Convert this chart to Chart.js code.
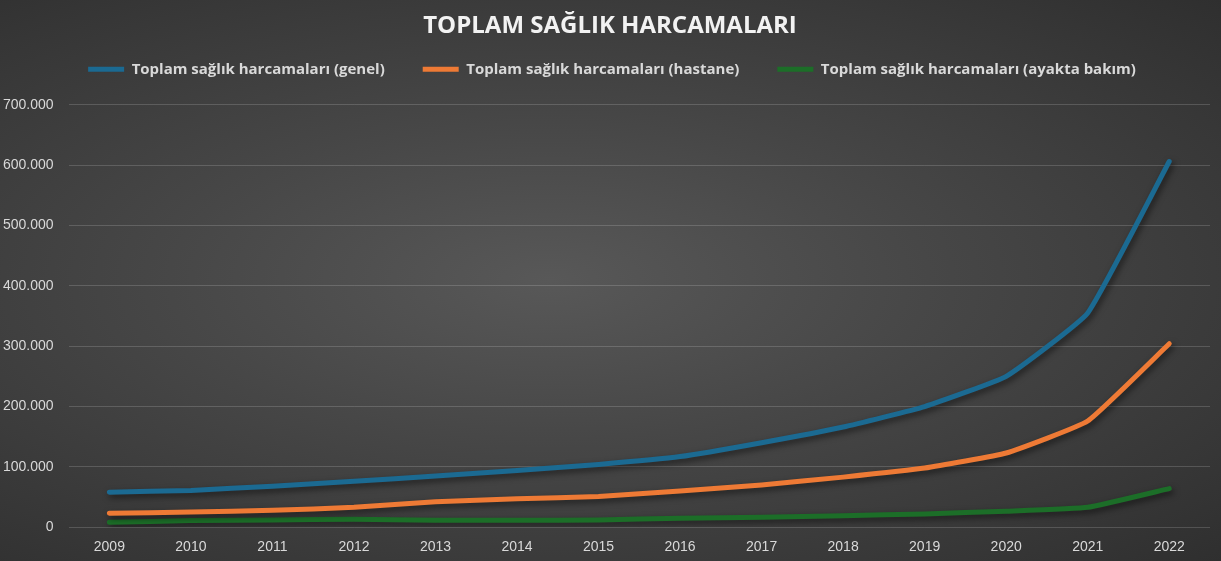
<!DOCTYPE html>
<html>
<head>
<meta charset="utf-8">
<script src="https://cdn.jsdelivr.net/npm/chart.js@4.4.0/dist/chart.umd.min.js"></script>
<style>
  html, body { margin: 0; padding: 0; background: #3a3a3a; }
  #wrap {
    width: 1221px; height: 561px;
    background: radial-gradient(ellipse at 45% 50%, #585858 0%, #474747 40%, #2f2f2f 100%);
  }
</style>
</head>
<body>
<div id="wrap"><canvas id="grafik" width="1221" height="561"></canvas></div>
<script>
// Veriler
const yillar = ["2009", "2010", "2011", "2012", "2013", "2014", "2015", "2016", "2017", "2018", "2019", "2020", "2021", "2022"];
const genel = [58000, 61000, 68000, 76000, 85000, 94000, 104000, 117000, 140000, 166000, 200000, 250000, 355000, 606000];
const hastane = [23000, 25000, 28000, 33000, 42000, 47000, 51000, 60000, 70000, 83000, 98000, 123000, 176000, 304000];
const ayaktaBakim = [8000, 11000, 12000, 13000, 11500, 11500, 12000, 15000, 16500, 19000, 22000, 26500, 33000, 64000];
const seriAdlari = [
    "Toplam sağlık harcamaları (genel)",
    "Toplam sağlık harcamaları (hastane)",
    "Toplam sağlık harcamaları (ayakta bakım)"
];

// Çizgilere gölge
const golge = {
    id: "golge",
    beforeDatasetsDraw(chart) {
        const ctx = chart.ctx;
        ctx.save();
        ctx.shadowColor = "rgba(0,0,0,0.55)";
        ctx.shadowBlur = 6;
        ctx.shadowOffsetX = 2;
        ctx.shadowOffsetY = 3;
    },
    afterDatasetsDraw(chart) {
        chart.ctx.restore();
    }
};

// Lejant yüksekliğini ayarla, başlık ve lejantı ortala
const lejantBosluk = {
    id: "lejantBosluk",
    beforeInit(chart) {
        const fit = chart.legend.fit;
        chart.legend.fit = function () {
            fit.bind(chart.legend)();
            this.height += 18;
        };
    },
    afterLayout(chart) {
        chart.legend.left += 13;
        chart.legend.right += 13;
        if (chart.titleBlock) {
            chart.titleBlock.left += 11;
            chart.titleBlock.right += 11;
        }
    }
};

function seri(label, data, renk) {
    return {
        label: label,
        data: data,
        borderColor: renk,
        backgroundColor: renk,
        borderWidth: 5,
        pointRadius: 0,
        pointStyle: "line",
        tension: 0.12,
        borderCapStyle: "round",
        fill: false
    };
}

new Chart(document.getElementById("grafik"), {
    type: "line",
    data: {
        labels: yillar,
        datasets: [
            seri(seriAdlari[0], genel, "#1b6a92"),
            seri(seriAdlari[1], hastane, "#ee7a35"),
            seri(seriAdlari[2], ayaktaBakim, "#1c6e28")
        ]
    },
    plugins: [golge, lejantBosluk],
    options: {
        responsive: false,
        animation: false,
        layout: { padding: { left: -12, right: 11, top: 0, bottom: -7 } },
        plugins: {
            title: {
                display: true,
                text: "TOPLAM SAĞLIK HARCAMALARI",
                color: "#f2f2f2",
                font: { family: "Open Sans", size: 24, weight: "bold" },
                padding: { top: 12, bottom: -17 }
            },
            legend: {
                labels: {
                    color: "#d9d9d9",
                    font: { family: "Open Sans", size: 15, weight: "bold" },
                    usePointStyle: true,
                    pointStyleWidth: 36,
                    boxHeight: 5,
                    padding: 38
                }
            },
            tooltip: { enabled: false }
        },
        scales: {
            x: {
                offset: true,
                grid: { display: false, drawTicks: false },
                border: { display: false },
                ticks: {
                    color: "#d9d9d9",
                    font: { family: "Liberation Sans", size: 14 },
                    padding: 12,
                    maxRotation: 0
                }
            },
            y: {
                min: 0,
                max: 700000,
                grid: { color: "rgba(255,255,255,0.16)", lineWidth: 1, drawTicks: false },
                border: { display: false },
                ticks: {
                    stepSize: 100000,
                    color: "#d9d9d9",
                    font: { family: "Liberation Sans", size: 14 },
                    padding: 15,
                    callback: v => v.toLocaleString("tr-TR")
                }
            }
        }
    }
});
</script>
</body>
</html>
